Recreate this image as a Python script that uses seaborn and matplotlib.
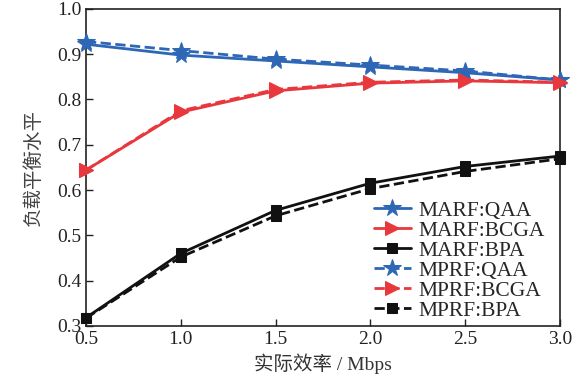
import matplotlib as mpl
import matplotlib.pyplot as plt
import numpy as np
import pandas as pd
import seaborn as sns

# data
rate = [0.5, 1.0, 1.5, 2.0, 2.5, 3.0]
marf_qaa = [0.922, 0.898, 0.885, 0.872, 0.859, 0.843]
marf_bcga = [0.644, 0.772, 0.819, 0.836, 0.841, 0.837]
marf_bpa = [0.318, 0.460, 0.555, 0.615, 0.652, 0.675]
mprf_qaa = [0.928, 0.908, 0.889, 0.876, 0.863, 0.843]
mprf_bcga = [0.644, 0.775, 0.822, 0.838, 0.843, 0.838]
mprf_bpa = [0.317, 0.452, 0.543, 0.603, 0.641, 0.669]

sns.set_style("ticks")
plt.rcParams['font.family'] = ['Liberation Serif', 'Noto Sans CJK SC']
plt.rcParams['xtick.direction'] = 'in'
plt.rcParams['ytick.direction'] = 'in'

blue = '#2e67b6'
red = '#e8383d'
black = '#111111'

series = [
    ('MARF:QAA', marf_qaa, blue, '-', '*', 13),
    ('MARF:BCGA', marf_bcga, red, '-', '>', 10),
    ('MARF:BPA', marf_bpa, black, '-', 's', 6.5),
    ('MPRF:QAA', mprf_qaa, blue, '--', '*', 13),
    ('MPRF:BCGA', mprf_bcga, red, '--', '>', 10),
    ('MPRF:BPA', mprf_bpa, black, '--', 's', 6.5),
]

fig = plt.figure(figsize=(5.85, 3.87), dpi=100)
ax = fig.add_axes([0.147, 0.158, 0.81, 0.819])

for name, vals, c, ls, mk, ms in series:
    sns.lineplot(x=rate, y=vals, ax=ax, color=c, linestyle=ls, marker=mk,
                 markersize=ms, linewidth=2, markeredgecolor=c,
                 markerfacecolor=c, label=name, clip_on=False, zorder=3)

ax.set_xlim(0.5, 3.0)
ax.set_ylim(0.3, 1.0)
ax.set_xticks(rate)
ax.set_xticklabels(['0.5', '1.0', '1.5', '2.0', '2.5', '3.0'])
ax.set_yticks([0.3, 0.4, 0.5, 0.6, 0.7, 0.8, 0.9, 1.0])
ax.tick_params(labelsize=14, length=5, width=1, colors='#222222')
for sp in ax.spines.values():
    sp.set_linewidth(1.2)
    sp.set_color('#222222')

ax.set_xlabel('实际效率 / Mbps', fontsize=14, color='#333333', labelpad=4)
ax.set_ylabel('负载平衡水平', fontsize=14, color='#444444', labelpad=10)

leg = ax.legend(loc='lower right', bbox_to_anchor=(0.995, -0.025), frameon=False,
                fontsize=15.5, handlelength=1.7, labelspacing=0.0,
                handletextpad=0.35, borderaxespad=0.2)

fig.savefig('out.png', dpi=100)
